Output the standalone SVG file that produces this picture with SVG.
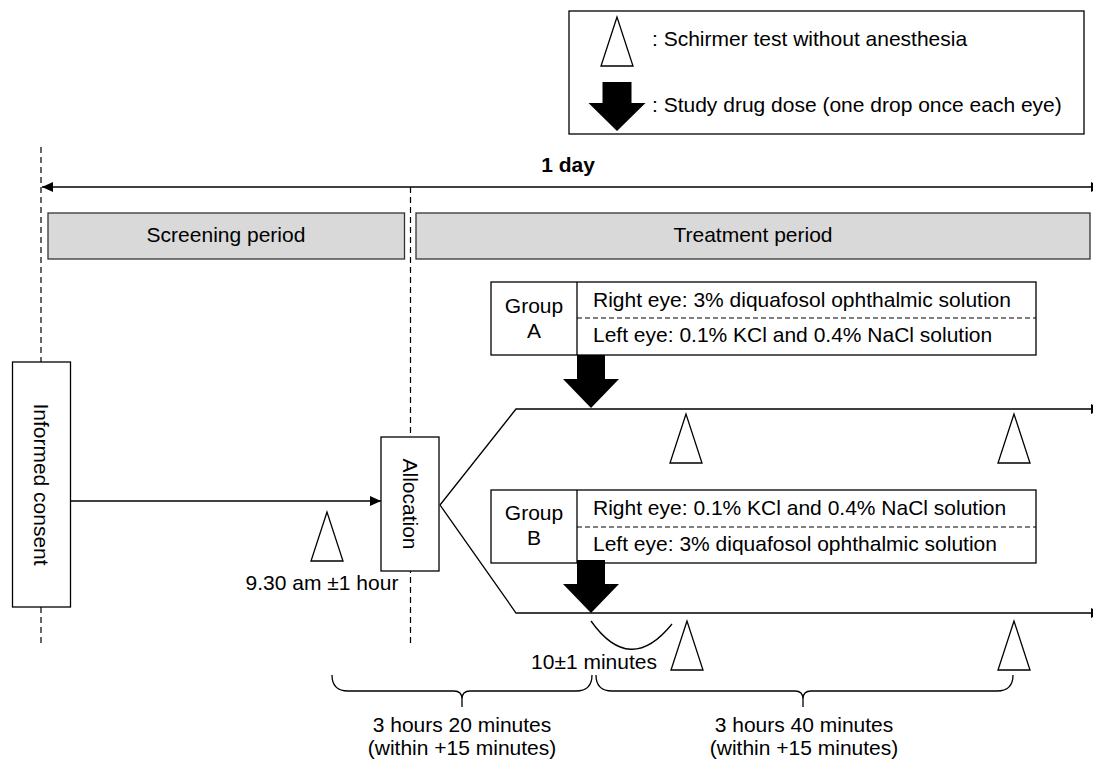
<svg xmlns="http://www.w3.org/2000/svg" xmlns:xlink="http://www.w3.org/1999/xlink" width="1093" height="766" viewBox="0 0 1093 766">
<defs>
<style>
text{font-family:"Liberation Sans",Arial,sans-serif;font-size:21px;fill:#000}
.mid{text-anchor:middle}
.bold{font-weight:bold}
.box{fill:#fff;stroke:#000;stroke-width:1.3}
.period{fill:#d9d9d9;stroke:#333;stroke-width:1.3}
.ln{fill:none;stroke:#000;stroke-width:1.3}
.dash{fill:none;stroke:#000;stroke-width:1.2;stroke-dasharray:6 4}
.sdash{fill:none;stroke:#000;stroke-width:1;stroke-dasharray:5 3}
.tri{fill:#fff;stroke:#000;stroke-width:1.3}
.drug{fill:#000}
</style>
<marker id="ah" viewBox="0 0 11 10" refX="11" refY="5" markerWidth="11" markerHeight="10" markerUnits="userSpaceOnUse" orient="auto-start-reverse">
<path d="M0,0 L11,5 L0,10 z" fill="#000"/>
</marker>
<polygon id="tri" points="0,0 -16,49 16,49"/>
<path id="drug" d="M-14,0 H14 V24 H28 L0,53 L-28,24 H-14 Z"/>
<path id="drug-legend" d="M-14.5,0 H14.5 V21 H28.5 L0,49 L-28.5,21 H-14.5 Z"/>
</defs>
<rect width="1093" height="766" fill="#fff"/>

<g id="connectors">
<line class="dash" x1="41" y1="147" x2="41" y2="646"/>
<line class="dash" x1="410.5" y1="187" x2="410.5" y2="646"/>
<line class="ln" x1="42" y1="187" x2="1102" y2="187" marker-start="url(#ah)" marker-end="url(#ah)"/>
<line class="ln" x1="71" y1="501" x2="381" y2="501" marker-end="url(#ah)"/>
<polyline class="ln" points="440,505 516,409 1102,409" marker-end="url(#ah)"/>
<polyline class="ln" points="440,505 516,613 1102,613" marker-end="url(#ah)"/>
<path class="ln" d="M591,621 Q630,676 672,624"/>
<path class="ln" d="M332,675 Q332,691 348,691 L454,691 Q462,691 462,699 L462,707 M462,699 Q462,691 470,691 L576,691 Q592,691 592,675"/>
<path class="ln" d="M596,675 Q596,691 612,691 L795,691 Q803,691 803,699 L803,707 M803,699 Q803,691 811,691 L997,691 Q1013,691 1013,675"/>
</g>

<g id="legend">
<rect class="box" x="569" y="11" width="515" height="123"/>
<use xlink:href="#tri" class="tri" x="617" y="17"/>
<text x="652" y="46">: Schirmer test without anesthesia</text>
<use xlink:href="#drug-legend" class="drug" x="617" y="82"/>
<text x="652" y="112">: Study drug dose (one drop once each eye)</text>
</g>

<g id="day-label">
<text class="mid bold" x="568" y="172">1 day</text>
</g>

<g id="screening-period">
<rect class="period" x="48" y="213" width="356.5" height="46"/>
<text class="mid" x="226" y="242">Screening period</text>
</g>

<g id="treatment-period">
<rect class="period" x="416" y="213" width="674" height="46"/>
<text class="mid" x="753" y="242">Treatment period</text>
</g>

<g id="informed-consent">
<rect class="box" x="12.5" y="362" width="58" height="245"/>
<text class="mid" transform="translate(41,484.5) rotate(90)" y="7">Informed consent</text>
</g>

<g id="allocation">
<rect class="box" x="381" y="437" width="58" height="134"/>
<text class="mid" transform="translate(410,504) rotate(90)" y="7">Allocation</text>
</g>

<g id="baseline-test">
<use xlink:href="#tri" class="tri" x="327" y="512"/>
<text class="mid" x="322" y="590">9.30 am ±1 hour</text>
</g>

<g id="group-a">
<rect class="box" x="491" y="282" width="545" height="73"/>
<line class="ln" x1="577" y1="282" x2="577" y2="355"/>
<line class="sdash" x1="577" y1="318" x2="1036" y2="318"/>
<text class="mid" x="534" y="313">Group</text>
<text class="mid" x="534" y="338">A</text>
<text x="593" y="307">Right eye: 3% diquafosol ophthalmic solution</text>
<text x="593" y="342">Left eye: 0.1% KCl and 0.4% NaCl solution</text>
</g>
<g id="dose-a"><use xlink:href="#drug" class="drug" x="591" y="355"/></g>
<g id="test-a1"><use xlink:href="#tri" class="tri" x="686" y="414"/></g>
<g id="test-a2"><use xlink:href="#tri" class="tri" x="1014" y="414"/></g>

<g id="group-b">
<rect class="box" x="491" y="490" width="545" height="73"/>
<line class="ln" x1="577" y1="490" x2="577" y2="563"/>
<line class="sdash" x1="577" y1="527" x2="1036" y2="527"/>
<text class="mid" x="534" y="520">Group</text>
<text class="mid" x="534" y="545">B</text>
<text x="593" y="515">Right eye: 0.1% KCl and 0.4% NaCl solution</text>
<text x="593" y="551">Left eye: 3% diquafosol ophthalmic solution</text>
</g>
<g id="dose-b"><use xlink:href="#drug" class="drug" x="591" y="560"/></g>
<g id="test-b1"><use xlink:href="#tri" class="tri" x="687" y="621"/></g>
<g id="test-b2"><use xlink:href="#tri" class="tri" x="1014" y="621"/></g>

<g id="labels">
<text class="mid" x="594" y="669">10±1 minutes</text>
<text class="mid" x="462" y="732">3 hours 20 minutes</text>
<text class="mid" x="462" y="755">(within +15 minutes)</text>
<text class="mid" x="804" y="732">3 hours 40 minutes</text>
<text class="mid" x="804" y="755">(within +15 minutes)</text>
</g>
</svg>
